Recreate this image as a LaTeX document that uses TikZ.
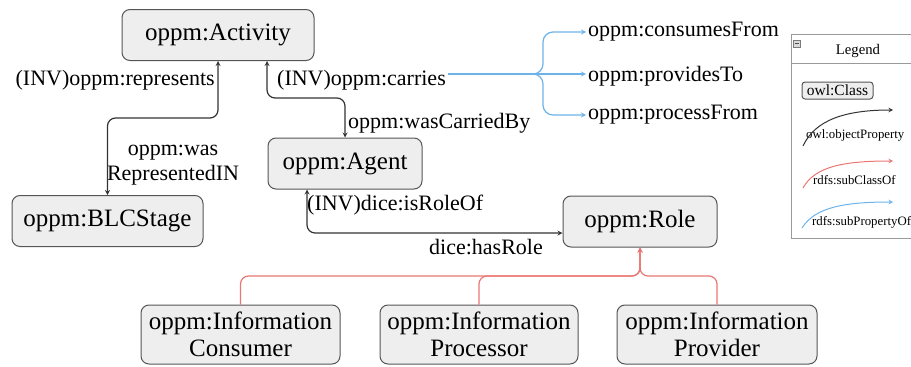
\documentclass[tikz,border=0pt]{standalone}
\usepackage{fontspec}
\newfontfamily\diafont{Liberation Serif}
\usetikzlibrary{arrows}
\definecolor{boxfill}{HTML}{EEEEEE}
\definecolor{boxline}{HTML}{555555}
\definecolor{objline}{HTML}{333333}
\definecolor{subred}{HTML}{EA7773}
\definecolor{subblue}{HTML}{6DB3EA}
\definecolor{legline}{HTML}{9A9A9A}
\tikzset{
  cls/.style={draw=boxline, fill=boxfill, line width=1pt, rounded corners=8pt,
    minimum height=51pt, inner sep=2pt, align=center,
    font=\diafont\fontsize{25}{27}\selectfont},
  lbl/.style={inner sep=2pt, align=center, font=\diafont\fontsize{22}{25}\selectfont},
  leglbl/.style={inner sep=1pt, anchor=west, font=\diafont\fontsize{12.8}{15}\selectfont},
  objprop/.style={draw=objline, line width=1.2pt, rounded corners=8pt, >=stealth},
  subcls/.style={draw=subred, line width=1.2pt, rounded corners=8pt, >=stealth},
  subprop/.style={draw=subblue, line width=1.2pt, rounded corners=10pt, >=stealth}
}
\begin{document}
\begin{tikzpicture}[x=1pt, y=-1pt]
  \useasboundingbox (0,0) rectangle (911,367);
  \path
  (218,35) node[cls, minimum width=192pt] (act) {oppm:Activity}
  (107.5,221) node[cls, minimum width=191pt] (blc) {oppm:BLCStage}
  (345,163.5) node[cls, minimum width=154pt] (agt) {oppm:Agent}
  (640,221.5) node[cls, minimum width=154pt] (role) {oppm:Role}
  (240.5,334.5) node[cls, minimum width=199pt, minimum height=59pt] (icons) {oppm:Information\\Consumer}
  (479,334.5) node[cls, minimum width=198pt, minimum height=59pt] (iproc) {oppm:Information\\Processor}
  (717,334.5) node[cls, minimum width=200pt, minimum height=59pt] (iprov) {oppm:Information\\Provider}
  (217,80) node[lbl, anchor=east] (invrep) {(INV)oppm:represents}
  (173,165.5) node[lbl] (wasrep) {oppm:was\\RepresentedIN}
  (275,80) node[lbl, anchor=west] (carr) {(INV)oppm:carries}
  (346,123) node[lbl, anchor=west] (wascarr) {oppm:wasCarriedBy}
  (586,32) node[lbl, anchor=west] (cfrom) {oppm:consumesFrom}
  (586,76) node[lbl, anchor=west] (pto) {oppm:providesTo}
  (586,115) node[lbl, anchor=west] (pfrom) {oppm:processFrom}
  (305,205) node[lbl, anchor=west] (isrole) {(INV)dice:isRoleOf}
  (486,247) node[lbl] (hasrole) {dice:hasRole};

  \coordinate (fork) at (543,74);
  \coordinate (hub) at (640,276);

  \draw[objprop, <->]
  (act.south) -- ++(0,57) -| (blc.north);
  \draw[objprop, <->]
  ([xshift=49pt]act.south) -- ++(0,37) -| (agt.north);
  \draw[objprop, <->]
  ([xshift=-38pt]agt.south) |- ([yshift=-11.5pt]role.west);

  \draw[subprop, ->]
  (carr.east |- fork) -- (fork) |- (cfrom.west);
  \draw[subprop, ->]
  (carr.east |- fork) -- (pto.west |- fork);
  \draw[subprop, ->]
  (carr.east |- fork) -- (fork) |- (pfrom.west);

  \draw[subcls, ->]
  (icons.north) |- (hub) -- (role.south);
  \draw[subcls, ->]
  (iproc.north) |- (hub) -- (role.south);
  \draw[subcls, ->]
  (iprov.north) |- (hub) -- (role.south);

  \draw[legline, line width=1pt] (791,34) rectangle (915,238)
  (791,63) -- (915,63);
  \draw[legline!80!black, fill=gray!30, line width=0.6pt] (793,40) rectangle (800,47);
  \draw[black!70, line width=0.8pt] (794.5,43.5) -- (798.5,43.5);
  \path
  (858,51) node[inner sep=1pt, font=\diafont\fontsize{14.7}{16}\selectfont] (legttl) {Legend}
  (837.5,90.5) node[cls, minimum width=71pt, minimum height=17pt, rounded corners=3pt,
    inner sep=1pt, font=\diafont\fontsize{15.5}{17}\selectfont] (legcls) {owl:Class}
  (805,135) node[leglbl] (legobj) {owl:objectProperty}
  (812,180) node[leglbl] (legsub) {rdfs:subClassOf}
  (811,222) node[leglbl] (legspr) {rdfs:subPropertyOf};
  \coordinate (objA) at (803,146);
  \coordinate (objB) at (893,110);
  \coordinate (subA) at (803,188);
  \coordinate (subB) at (893,161);
  \coordinate (sprA) at (802,228);
  \coordinate (sprB) at (893,202);
  \draw[objline, line width=1pt, ->, >=stealth]
  (objA) .. controls (815,120) and (845,110) .. (objB);
  \draw[subred, line width=1pt, ->, >=stealth]
  (subA) .. controls (815,166) and (845,161) .. (subB);
  \draw[subblue, line width=1pt, ->, >=stealth]
  (sprA) .. controls (815,207) and (845,202) .. (sprB);
\end{tikzpicture}
\end{document}
